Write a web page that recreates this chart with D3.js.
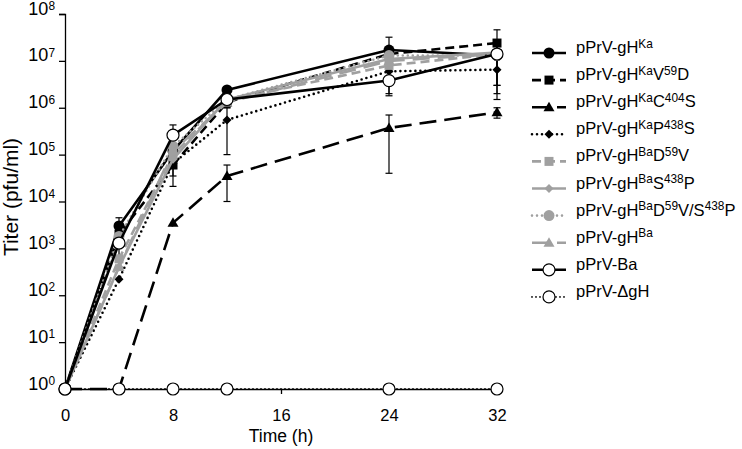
<!DOCTYPE html>
<html>
<head>
<meta charset="utf-8">
<script src="https://cdn.jsdelivr.net/npm/d3@7"></script>
<style>
  html, body { margin: 0; padding: 0; background: #fff; }
  svg { display: block; font-family: "Liberation Sans", Arial, sans-serif; }
</style>
</head>
<body>
<svg id="chart" width="742" height="449"></svg>
<script>
// ---------------- DATA ----------------
const times = [0, 4, 8, 12, 24, 32];
const xTicks = [0, 8, 16, 24, 32];
const yTickExponents = [0, 1, 2, 3, 4, 5, 6, 7, 8];

const seriesLabels = [
  "pPrV-gH^{Ka}",
  "pPrV-gH^{Ka}V^{59}D",
  "pPrV-gH^{Ka}C^{404}S",
  "pPrV-gH^{Ka}P^{438}S",
  "pPrV-gH^{Ba}D^{59}V",
  "pPrV-gH^{Ba}S^{438}P",
  "pPrV-gH^{Ba}D^{59}V/S^{438}P",
  "pPrV-gH^{Ba}",
  "pPrV-Ba",
  "pPrV-ΔgH"
];

const titerKa          = [1, 3.0e3, 1.2e5, 2.4e6, 1.7e7, 1.3e7];
const titerKaV59D      = [1, 2.0e3, 6.0e4, 1.3e6, 1.4e7, 2.4e7];
const titerKaC404S     = [1, 1, 3.5e3, 3.5e4, 3.7e5, 8.0e5];
const titerKaP438S     = [1, 2.2e2, 6.5e4, 5.5e5, 6.0e6, 6.5e6];
const titerBaD59V      = [1, 6.0e2, 1.0e5, 1.4e6, 8.0e6, 1.4e7];
const titerBaS438P     = [1, 4.0e2, 8.0e4, 1.5e6, 1.1e7, 1.5e7];
const titerBaD59VS438P = [1, 1.8e3, 1.5e5, 1.5e6, 1.3e7, 1.3e7];
const titerGHBa        = [1, 4.0e2, 1.2e5, 1.3e6, 1.0e7, 1.4e7];
const titerBa          = [1, 1.3e3, 2.6e5, 1.5e6, 3.8e6, 1.4e7];
const titerDeltaGH     = [1, 1, 1, 1, 1, 1];

// standard deviations (null = no visible bar)
const sdKa          = [null, 1.5e3, 8.5e4, null, 1.5e7, 1.0e7];
const sdKaV59D      = [null, null, null, null, null, 2.2e7];
const sdKaC404S     = [null, null, null, 2.5e4, 3.3e5, 2.0e5];
const sdKaP438S     = [null, null, 4.4e4, 4.5e5, null, 5.0e6];
const sdBaD59V      = [null, null, null, null, null, null];
const sdBaS438P     = [null, null, null, null, null, null];
const sdBaD59VS438P = [null, null, null, null, null, null];
const sdGHBa        = [null, null, null, null, null, null];
const sdBa          = [null, 8.0e2, 1.7e5, 5.0e5, 2.0e6, 1.1e7];
const sdDeltaGH     = [null, null, null, null, null, null];

const allValues = [titerKa, titerKaV59D, titerKaC404S, titerKaP438S, titerBaD59V,
                   titerBaS438P, titerBaD59VS438P, titerGHBa, titerBa, titerDeltaGH];
const allSd = [sdKa, sdKaV59D, sdKaC404S, sdKaP438S, sdBaD59V,
               sdBaS438P, sdBaD59VS438P, sdGHBa, sdBa, sdDeltaGH];

// ---------------- STYLE ----------------
const BLACK = "#000000", GRAY = "#a0a0a0";
const styles = [
  { color: BLACK, dash: null,   marker: "circle",   fill: BLACK },
  { color: BLACK, dash: "9,5",  marker: "square",   fill: BLACK },
  { color: BLACK, dash: "17,8", marker: "triangle", fill: BLACK },
  { color: BLACK, dash: "0,5",  marker: "diamond",  fill: BLACK },
  { color: GRAY,  dash: "9,5",  marker: "square",   fill: GRAY },
  { color: GRAY,  dash: null,   marker: "diamond",  fill: GRAY },
  { color: GRAY,  dash: "0,5",  marker: "circle",   fill: GRAY },
  { color: GRAY,  dash: "17,8", marker: "triangle", fill: GRAY },
  { color: BLACK, dash: null,   marker: "ocircle",  fill: "#fff" },
  { color: BLACK, dash: "0,4",  marker: "ocircle",  fill: "#fff" }
];

const svg = d3.select("#chart");
const x = d3.scaleLinear().domain([0, 32]).range([65, 497]);
const y = d3.scaleLog().domain([1, 1e8]).range([389, 14]);

function addRich(textSel, str, size, supRatio, shiftRatio) {
  const parts = str.split(/(\^\{[^}]*\})/).filter(s => s.length);
  const supSize = size * supRatio;
  const shift = size * shiftRatio;
  let up = false;
  parts.forEach(p => {
    if (p.startsWith("^{")) {
      textSel.append("tspan").attr("font-size", supSize)
        .attr("dy", up ? 0 : -shift).text(p.slice(2, -1));
      up = true;
    } else {
      textSel.append("tspan").attr("font-size", size)
        .attr("dy", up ? shift : 0).text(p);
      up = false;
    }
  });
}

function markerPath(type, cx, cy) {
  const g = d3.path();
  if (type === "square") { g.rect(cx - 4.5, cy - 4.5, 9, 9); }
  else if (type === "triangle") { g.moveTo(cx, cy - 5.5); g.lineTo(cx + 5.5, cy + 4); g.lineTo(cx - 5.5, cy + 4); g.closePath(); }
  else if (type === "diamond") { g.moveTo(cx, cy - 4.5); g.lineTo(cx + 4.5, cy); g.lineTo(cx, cy + 4.5); g.lineTo(cx - 4.5, cy); g.closePath(); }
  return g.toString();
}

function drawMarker(sel, st, cx, cy) {
  if (st.marker === "circle") {
    sel.append("circle").attr("cx", cx).attr("cy", cy).attr("r", 5.5).attr("fill", st.fill);
  } else if (st.marker === "ocircle") {
    sel.append("circle").attr("cx", cx).attr("cy", cy).attr("r", 6)
      .attr("fill", "#fff").attr("stroke", "#000").attr("stroke-width", 1.2);
  } else {
    sel.append("path").attr("d", markerPath(st.marker, cx, cy)).attr("fill", st.fill);
  }
}

// ---------------- AXES ----------------
const yAxis = svg.append("g").attr("transform", "translate(65,0)")
  .call(d3.axisLeft(y).tickValues(yTickExponents.map(e => Math.pow(10, e)))
        .tickSize(6).tickPadding(4).tickFormat(""));
yAxis.select(".domain").attr("stroke", "#000").attr("stroke-width", 1.3);
yAxis.selectAll(".tick line").attr("stroke", "#000").attr("stroke-width", 1.3);
yAxis.selectAll(".tick").each(function(d) {
  const t = d3.select(this).append("text")
    .attr("x", -10).attr("dy", "0.38em").attr("text-anchor", "end")
    .attr("fill", "#000").attr("font-family", '"Liberation Sans", Arial, sans-serif');
  addRich(t, "10^{" + Math.round(Math.log10(d)) + "}", 18, 0.66, 0.25);
});

const xAxis = svg.append("g").attr("transform", "translate(0,389)")
  .call(d3.axisBottom(x).tickValues(xTicks).tickSize(5).tickPadding(15).tickSizeOuter(0));
xAxis.select(".domain").attr("stroke", "#000").attr("stroke-width", 1.3);
xAxis.selectAll(".tick line").attr("stroke", "#000").attr("stroke-width", 1.3);
xAxis.selectAll(".tick text").attr("font-size", 16.5).attr("fill", "#000")
  .attr("font-family", '"Liberation Sans", Arial, sans-serif');

svg.append("text").attr("x", 281).attr("y", 442).attr("text-anchor", "middle")
  .attr("font-size", 17.5).text("Time (h)");
svg.append("text").attr("transform", "translate(18,197) rotate(-90)")
  .attr("text-anchor", "middle").attr("font-size", 21).text("Titer (pfu/ml)");

// ---------------- ERROR BARS ----------------
const errG = svg.append("g");
allSd.forEach((sds, i) => {
  sds.forEach((sd, j) => {
    if (sd === null) return;
    const v = allValues[i][j];
    const hi = v + sd, lo = Math.max(v - sd, 1);
    const cx = x(times[j]);
    errG.append("line").attr("x1", cx).attr("x2", cx).attr("y1", y(hi)).attr("y2", y(lo))
      .attr("stroke", "#000").attr("stroke-width", 1.2);
    [hi, lo].forEach(val => errG.append("line").attr("x1", cx - 3.5).attr("x2", cx + 3.5)
      .attr("y1", y(val)).attr("y2", y(val)).attr("stroke", "#000").attr("stroke-width", 1.2));
  });
});

// ---------------- SERIES ----------------
const line = d3.line().x(d => x(d[0])).y(d => y(d[1]));
allValues.forEach((vals, i) => {
  const st = styles[i];
  const g = svg.append("g");
  const pts = times.map((t, j) => [t, vals[j]]);
  g.append("path").attr("d", line(pts)).attr("fill", "none")
    .attr("stroke", st.color).attr("stroke-width", i === 9 ? 1.8 : 2.6)
    .attr("stroke-dasharray", st.dash)
    .attr("stroke-linecap", st.dash && st.dash.startsWith("0") ? "round" : "butt")
    .attr("stroke-linejoin", "round");
  pts.forEach(p => drawMarker(g, st, x(p[0]), y(p[1])));
});

// ---------------- LEGEND ----------------
const leg = svg.append("g");
seriesLabels.forEach((lab, i) => {
  const st = styles[i];
  const cy = 53 + i * 27.1;
  leg.append("line").attr("x1", 532).attr("x2", 566).attr("y1", cy).attr("y2", cy)
    .attr("stroke", st.color).attr("stroke-width", i === 9 ? 1.8 : 2.6)
    .attr("stroke-dasharray", st.dash)
    .attr("stroke-linecap", st.dash && st.dash.startsWith("0") ? "round" : "butt");
  drawMarker(leg, st, 549, cy);
  const t = leg.append("text").attr("x", 576).attr("y", cy).attr("dy", "0.36em").attr("fill", "#000");
  addRich(t, lab, 16.5, 0.72, 0.32);
});
</script>
</body>
</html>
